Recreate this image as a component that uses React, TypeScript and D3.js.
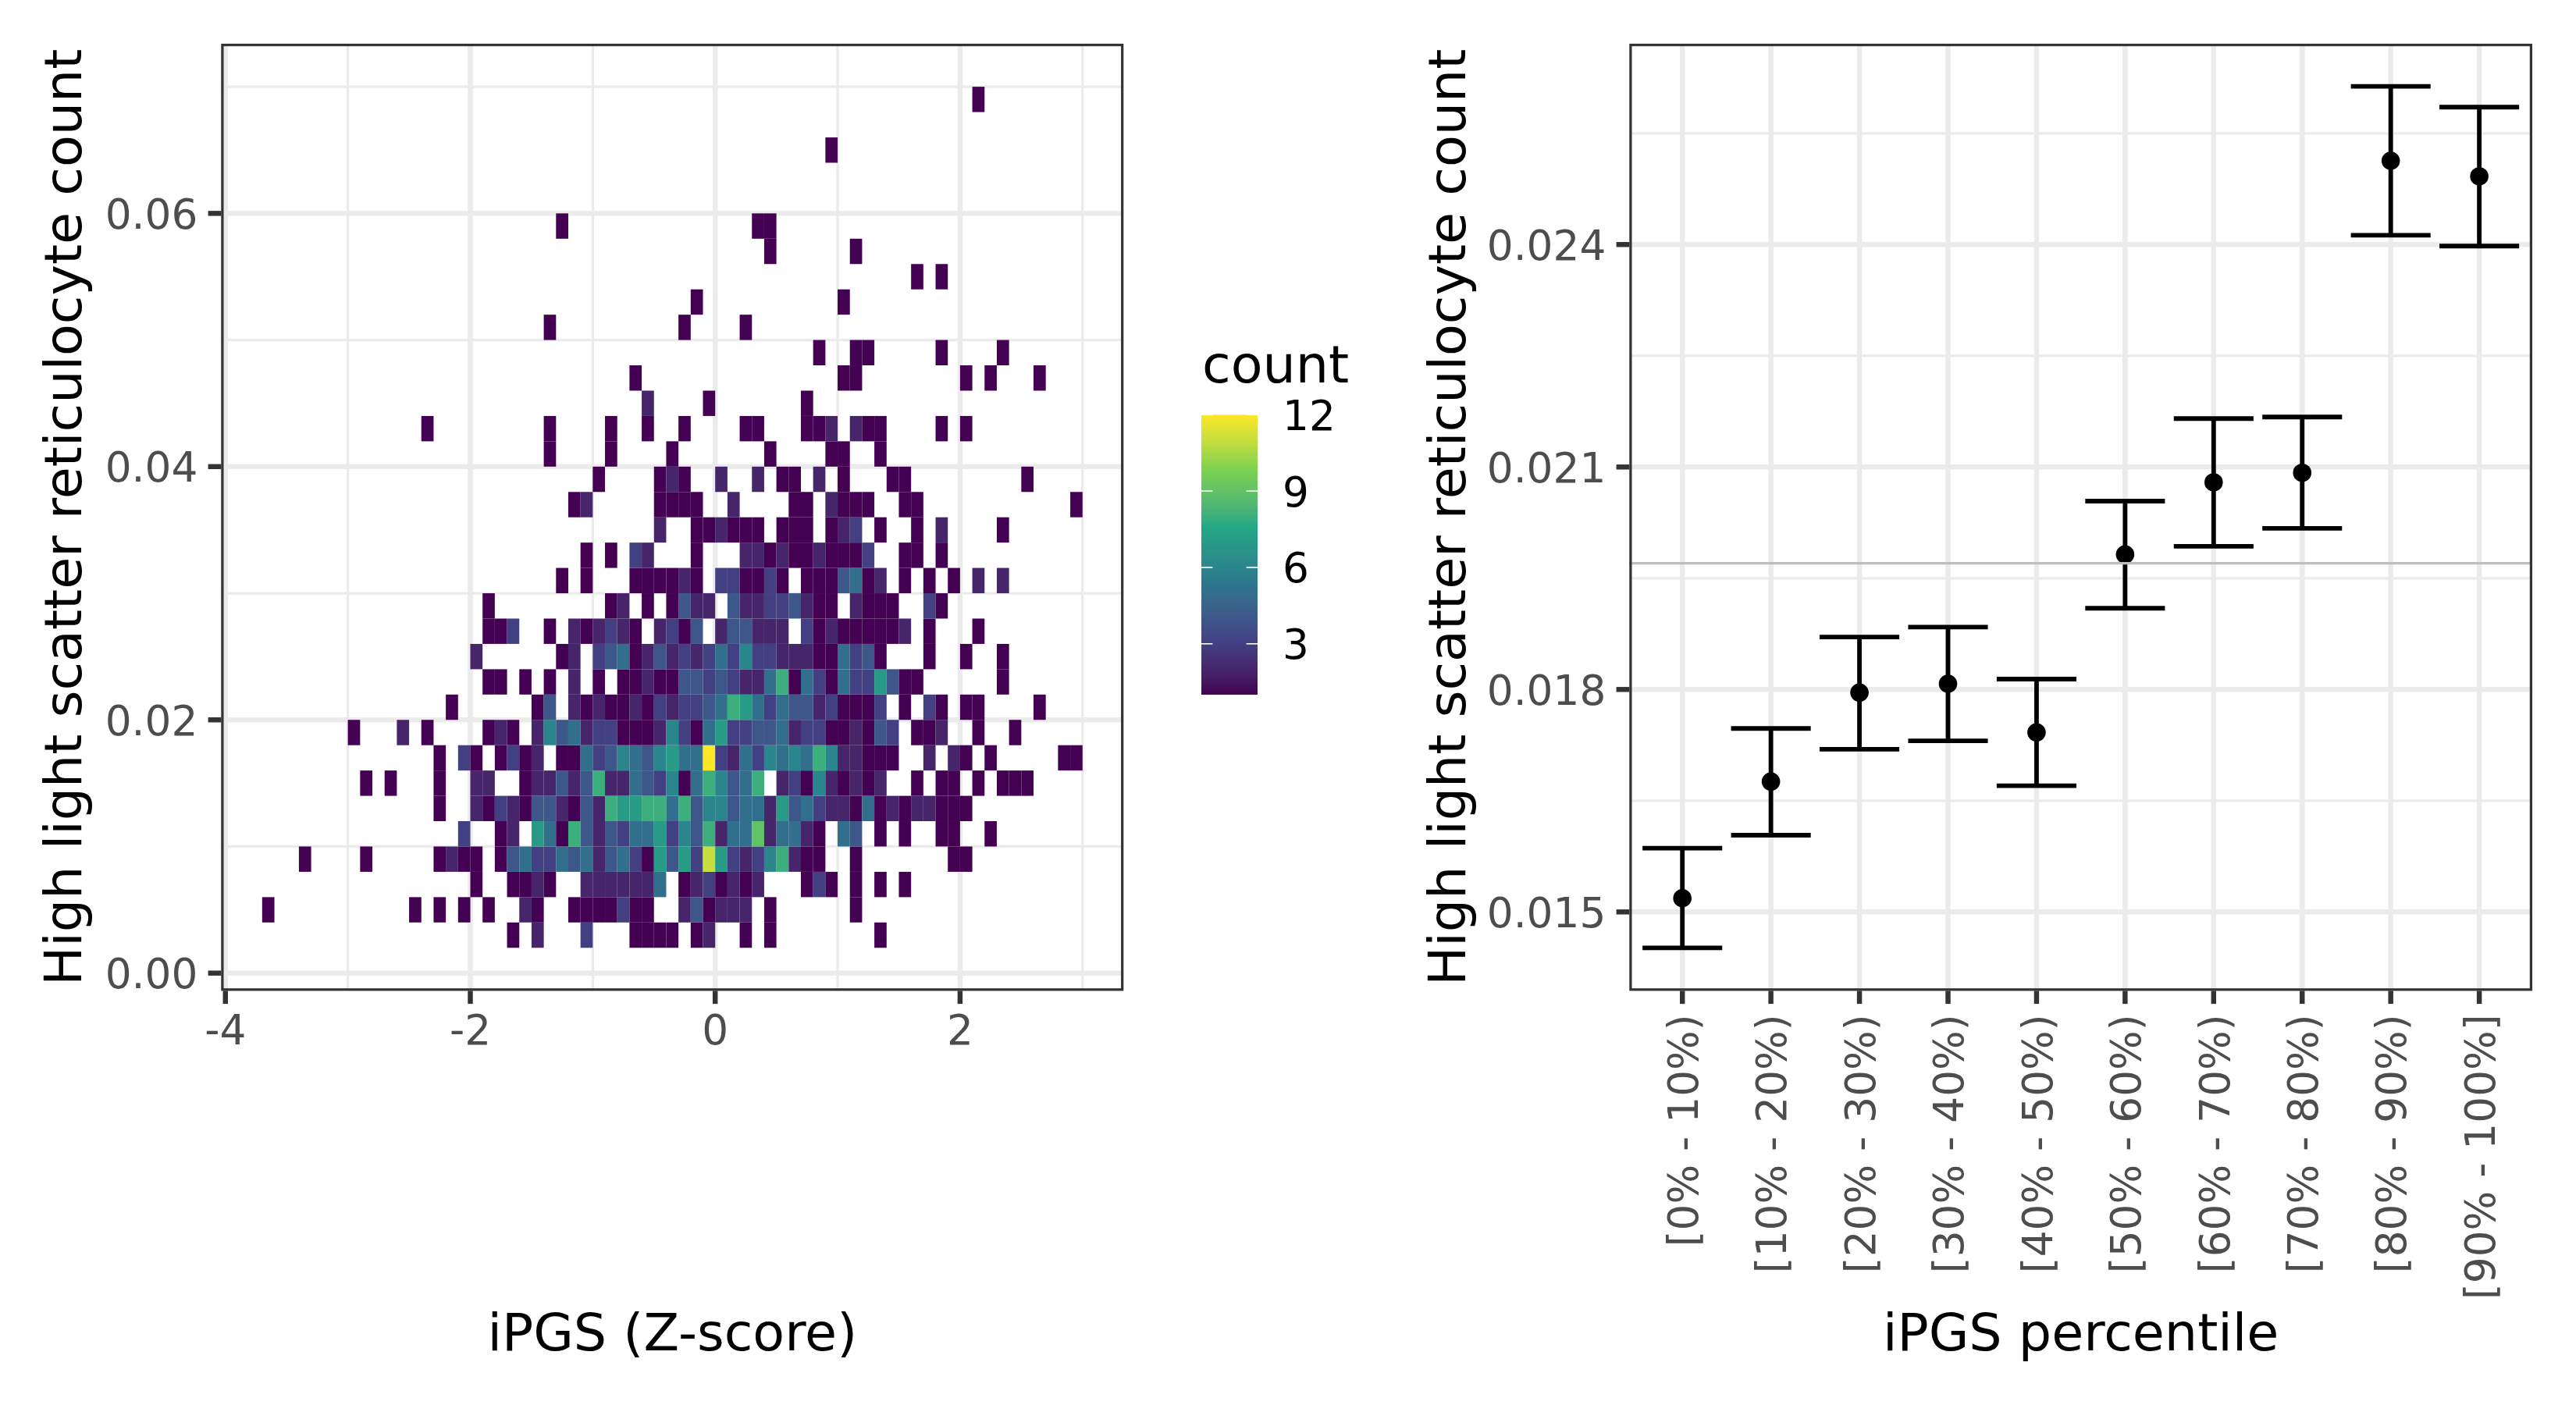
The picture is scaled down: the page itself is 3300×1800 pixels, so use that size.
import React from "react";
import * as d3 from "d3";

// ---- Left panel: 2D histogram. Bin size is 0.1 on x and 0.002 on y.
// Each row is [binIndexX, count]; bin x = index * 0.1, bin y = rowIndex * 0.002.
const row01 = [[-17,1],[-15,2],[-11,3],[-7,1],[-6,1],[-5,1],[-4,1],[-2,1],[-1,2],[2,1],[4,1],[13,1]];
const row02 = [[-37,1],[-25,1],[-23,1],[-21,1],[-19,1],[-16,2],[-15,1],[-12,1],[-11,1],[-10,1],[-9,1],[-8,3],[-7,1],[-6,1],[-3,2],[-2,4],[-1,1],[0,2],[1,2],[2,2],[4,1],[11,1]];
const row03 = [[-20,1],[-17,1],[-16,1],[-15,2],[-14,1],[-11,2],[-10,2],[-9,2],[-8,2],[-7,2],[-6,2],[-5,5],[-3,1],[-2,2],[-1,3],[0,1],[1,2],[2,1],[3,2],[7,1],[8,3],[9,1],[11,1],[13,1],[15,1]];
const row04 = [[-34,1],[-29,1],[-23,1],[-22,2],[-21,1],[-20,1],[-18,1],[-17,4],[-16,5],[-15,3],[-14,3],[-13,5],[-12,4],[-11,5],[-10,2],[-9,4],[-8,5],[-7,3],[-6,1],[-5,7],[-4,4],[-3,7],[-2,3],[-1,11],[0,7],[1,3],[2,2],[3,3],[4,6],[5,8],[6,2],[7,1],[8,1],[11,1],[19,1],[20,1]];
const row05 = [[-21,3],[-18,1],[-17,2],[-15,7],[-14,5],[-13,1],[-12,8],[-11,4],[-10,2],[-9,4],[-8,3],[-7,5],[-6,5],[-5,7],[-4,3],[-3,6],[-2,4],[-1,8],[0,2],[1,5],[2,5],[3,9],[4,2],[5,5],[6,5],[7,2],[8,1],[10,5],[11,4],[13,1],[15,1],[18,1],[19,1],[22,1]];
const row06 = [[-23,1],[-20,2],[-19,1],[-18,3],[-17,2],[-16,1],[-15,4],[-14,4],[-13,2],[-12,1],[-11,4],[-10,2],[-9,8],[-8,7],[-7,7],[-6,8],[-5,8],[-4,5],[-3,8],[-2,4],[-1,6],[0,6],[1,4],[2,5],[3,5],[4,2],[5,7],[6,4],[7,5],[8,3],[9,2],[10,2],[11,1],[12,5],[13,1],[14,2],[15,1],[16,2],[17,2],[18,1],[19,1],[20,1]];
const row07 = [[-29,1],[-27,1],[-23,1],[-20,2],[-19,2],[-16,1],[-15,2],[-14,2],[-13,4],[-12,2],[-11,4],[-10,8],[-9,2],[-8,2],[-7,5],[-6,4],[-5,3],[-4,6],[-3,1],[-2,5],[-1,8],[0,6],[1,4],[2,5],[3,8],[5,2],[6,3],[7,1],[8,6],[9,2],[10,1],[11,2],[12,1],[13,2],[16,1],[18,1],[19,1],[21,1],[23,1],[24,1],[25,1]];
const row08 = [[-23,1],[-21,3],[-20,1],[-18,1],[-17,3],[-16,1],[-15,2],[-13,1],[-12,1],[-11,5],[-10,3],[-9,4],[-8,6],[-7,5],[-6,4],[-5,6],[-4,7],[-3,5],[-2,5],[-1,12],[0,3],[1,2],[2,5],[3,3],[4,6],[5,5],[6,6],[7,5],[8,8],[9,6],[10,2],[11,2],[12,1],[13,1],[14,1],[17,2],[19,2],[20,1],[22,1],[28,1],[29,1]];
const row09 = [[-30,1],[-26,2],[-24,1],[-19,1],[-18,2],[-17,1],[-15,2],[-14,6],[-13,4],[-12,5],[-11,2],[-10,3],[-9,3],[-8,1],[-7,1],[-6,1],[-5,2],[-4,6],[-3,3],[-2,1],[-1,5],[0,7],[1,3],[2,3],[3,4],[4,4],[5,5],[6,2],[7,3],[8,3],[9,1],[10,1],[11,2],[12,1],[13,4],[14,3],[16,1],[17,1],[18,2],[21,1],[24,1]];
const row10 = [[-22,1],[-15,1],[-14,4],[-12,2],[-11,1],[-10,2],[-9,1],[-8,1],[-7,2],[-6,1],[-5,3],[-4,2],[-3,3],[-2,3],[-1,4],[0,5],[1,8],[2,7],[3,5],[4,3],[5,5],[6,4],[7,4],[8,2],[9,3],[10,1],[11,1],[12,1],[13,3],[15,1],[17,3],[18,1],[20,1],[21,1],[26,1]];
const row11 = [[-19,1],[-18,1],[-16,1],[-14,1],[-12,2],[-10,1],[-8,1],[-7,1],[-6,2],[-5,1],[-4,1],[-3,4],[-2,4],[-1,3],[0,4],[1,3],[2,2],[3,2],[4,5],[5,8],[6,1],[7,5],[8,3],[9,1],[10,5],[11,3],[12,3],[13,7],[14,4],[15,1],[16,1],[23,1]];
const row12 = [[-20,2],[-13,1],[-12,2],[-10,3],[-9,4],[-8,5],[-7,1],[-6,2],[-5,4],[-4,2],[-3,3],[-2,2],[-1,3],[0,5],[1,3],[2,6],[3,3],[4,3],[5,2],[6,2],[7,2],[8,1],[9,1],[10,5],[11,3],[12,4],[13,1],[17,1],[20,1],[23,1]];
const row13 = [[-19,1],[-18,1],[-17,3],[-14,1],[-12,2],[-11,1],[-10,2],[-9,3],[-8,2],[-7,1],[-5,2],[-4,3],[-3,1],[-2,4],[0,2],[1,4],[2,4],[3,2],[4,2],[5,2],[7,3],[8,1],[9,2],[10,1],[11,1],[12,1],[13,1],[14,1],[15,2],[17,1],[21,1]];
const row14 = [[-19,1],[-9,1],[-8,2],[-6,1],[-4,1],[-3,4],[-2,2],[-1,2],[1,4],[2,2],[3,2],[4,3],[5,3],[6,4],[7,2],[8,1],[9,1],[11,2],[12,1],[13,1],[14,1],[17,3],[18,1]];
const row15 = [[-13,1],[-11,1],[-7,1],[-6,1],[-5,1],[-4,1],[-3,2],[-2,1],[0,3],[1,3],[2,1],[3,1],[4,3],[5,1],[7,1],[8,1],[9,1],[10,4],[11,5],[12,1],[13,2],[15,1],[17,1],[19,1],[21,2],[23,2]];
const row16 = [[-11,1],[-9,1],[-7,3],[-6,2],[-2,1],[2,2],[3,2],[4,1],[5,2],[6,1],[7,1],[8,2],[9,1],[10,1],[11,1],[12,3],[15,1],[16,1],[18,1]];
const row17 = [[-5,2],[-2,1],[-1,1],[0,2],[1,1],[2,1],[3,1],[5,1],[6,1],[7,1],[9,1],[10,2],[11,3],[13,1],[16,1],[18,2],[23,1]];
const row18 = [[-12,1],[-11,2],[-5,1],[-4,1],[-3,1],[-2,1],[1,2],[6,1],[7,1],[9,2],[10,1],[11,1],[12,1],[15,1],[16,1],[29,1]];
const row19 = [[-10,1],[-5,1],[-4,2],[-3,1],[0,2],[3,2],[5,1],[6,1],[8,2],[10,1],[14,1],[15,1],[25,1]];
const row20 = [[-14,1],[-9,1],[-4,1],[4,1],[9,1],[10,1],[13,1]];
const row21 = [[-24,1],[-14,1],[-9,1],[-6,1],[-3,1],[2,1],[3,1],[7,1],[8,1],[9,2],[11,2],[12,1],[13,1],[18,1],[20,1]];
const row22 = [[-6,2],[-1,1],[7,1]];
const row23 = [[-7,1],[10,1],[11,1],[20,1],[22,1],[26,1]];
const row24 = [[8,1],[11,1],[12,1],[18,1],[23,1]];
const row25 = [[-14,1],[-3,1],[2,1]];
const row26 = [[-2,1],[10,1]];
const row27 = [[16,1],[18,1]];
const row28 = [[4,1],[11,1]];
const row29 = [[-13,1],[3,1],[4,1]];
const row32 = [[9,1]];
const row34 = [[21,1]];
const heatRows: [number, number[][]][] = [
  [1, row01],[2, row02],[3, row03],[4, row04],[5, row05],[6, row06],[7, row07],[8, row08],[9, row09],
  [10, row10],[11, row11],[12, row12],[13, row13],[14, row14],[15, row15],[16, row16],[17, row17],
  [18, row18],[19, row19],[20, row20],[21, row21],[22, row22],[23, row23],[24, row24],[25, row25],
  [26, row26],[27, row27],[28, row28],[29, row29],[32, row32],[34, row34],
];
const binW = 0.1;
const binH = 0.002;

const viridisStops = ["#440154", "#414487", "#2A788E", "#22A884", "#7AD151", "#FDE725"];
const countStops = [1, 3.2, 5.4, 7.6, 9.8, 12];
const legendTicks = [3, 6, 9, 12];

const leftXMajor = [-4, -2, 0, 2];
const leftXMinor = [-3, -1, 1, 3];
const leftYMajor = [0, 0.02, 0.04, 0.06];
const leftYMinor = [0.01, 0.03, 0.05, 0.07];

// ---- Right panel: point ranges per percentile bin
const percentiles = ["[0% - 10%)", "[10% - 20%)", "[20% - 30%)", "[30% - 40%)", "[40% - 50%)", "[50% - 60%)", "[60% - 70%)", "[70% - 80%)", "[80% - 90%)", "[90% - 100%]"];
const means = [0.015185, 0.016758, 0.017958, 0.018077, 0.017421, 0.019821, 0.020793, 0.020922, 0.025129, 0.024919];
const uppers = [0.015859, 0.017474, 0.018708, 0.018842, 0.01814, 0.02054, 0.021653, 0.021674, 0.026133, 0.025853];
const lowers = [0.014516, 0.016035, 0.017193, 0.017308, 0.016701, 0.019095, 0.01993, 0.020172, 0.024126, 0.023979];
const overallMean = 0.019701;
const rightYMajor = [0.015, 0.018, 0.021, 0.024];
const rightYMinor = [0.0165, 0.0195, 0.0225, 0.0255];

const yTitle = "High light scatter reticulocyte count";
const FONT = "'DejaVu Sans'";
const GRID = "#ebebeb";
const DARK = "#333333";
const TICKTXT = "#4d4d4d";
const MAJ = 6.46;
const MIN = 3.23;
const TITLE = 66.7;
const TICK = 53.3;

const P = { t: 56, b: 1269.4 };
const L = { l: 283.3, r: 1439.3 };
const R = { l: 2087.3, r: 3244 };
const TL = 16.7;

const xL = d3.scaleLinear().domain([-4.035, 3.335]).range([L.l, L.r]);
const yL = d3.scaleLinear().domain([-0.0014, 0.0734]).range([P.b, P.t]);
const xR = d3.scalePoint<string>().domain(percentiles).range([R.l + 67.9, R.r - 67.9]);
const yR = d3.scaleLinear().domain([0.013936, 0.026708]).range([P.b, P.t]);
const color = d3.scaleLinear<string>().domain(countStops).range(viridisStops).interpolate(d3.interpolateLab);
const legendY = d3.scaleLinear().domain([1, 12]).range([890, 531.3]);
const step = xR.step();

const tiles = heatRows.flatMap(([r, cells]) => cells.map(([c, n]) => ({ r, c, n })));
const gradientStops = d3.range(1, 12.01, 0.2);

function Frame({ l, r }: { l: number; r: number }) {
  return <rect x={l + 1.6} y={P.t + 1.6} width={r - l - 3.2} height={P.b - P.t - 3.2} fill="none" stroke={DARK} strokeWidth={3.23} />;
}

export default function App() {
  return (
    <svg width={3300} height={1800} viewBox="0 0 3300 1800" style={{ position: "absolute", left: 0, top: 0, display: "block", background: "#fff" }} fontFamily={FONT}>
      <rect x={0} y={0} width={3300} height={1800} fill="#fff" />

      {/* left grid */}
      {leftYMinor.map((v) => <line key={"lym" + v} x1={L.l} x2={L.r} y1={yL(v)} y2={yL(v)} stroke={GRID} strokeWidth={MIN} />)}
      {leftXMinor.map((v) => <line key={"lxm" + v} x1={xL(v)} x2={xL(v)} y1={P.t} y2={P.b} stroke={GRID} strokeWidth={MIN} />)}
      {leftYMajor.map((v) => <line key={"lyM" + v} x1={L.l} x2={L.r} y1={yL(v)} y2={yL(v)} stroke={GRID} strokeWidth={MAJ} />)}
      {leftXMajor.map((v) => <line key={"lxM" + v} x1={xL(v)} x2={xL(v)} y1={P.t} y2={P.b} stroke={GRID} strokeWidth={MAJ} />)}

      {/* heat tiles */}
      {tiles.map((d) => (
        <rect
          key={d.r + "_" + d.c}
          x={xL(d.c * binW)}
          y={yL((d.r + 1) * binH)}
          width={xL((d.c + 1) * binW) - xL(d.c * binW)}
          height={yL(d.r * binH) - yL((d.r + 1) * binH)}
          fill={color(d.n)}
        />
      ))}
      <Frame l={L.l} r={L.r} />

      {/* left ticks */}
      {leftXMajor.map((v) => (
        <g key={"ltx" + v}>
          <line x1={xL(v)} x2={xL(v)} y1={P.b} y2={P.b + TL} stroke={DARK} strokeWidth={MAJ} />
          <text x={xL(v)} y={1338} fontSize={TICK} fill={TICKTXT} textAnchor="middle">{v}</text>
        </g>
      ))}
      {leftYMajor.map((v) => (
        <g key={"lty" + v}>
          <line x1={L.l - TL} x2={L.l} y1={yL(v)} y2={yL(v)} stroke={DARK} strokeWidth={MAJ} />
          <text x={253.3} y={yL(v) + 19.5} fontSize={TICK} fill={TICKTXT} textAnchor="end">{d3.format(".2f")(v)}</text>
        </g>
      ))}
      <text x={(L.l + L.r) / 2} y={1730} fontSize={TITLE} textAnchor="middle" fill="#000">iPGS (Z-score)</text>
      <text transform={`translate(104,${(P.t + P.b) / 2}) rotate(-90)`} fontSize={TITLE} textAnchor="middle" fill="#000">{yTitle}</text>

      {/* legend */}
      <defs>
        <linearGradient id="countBar" x1="0" x2="0" y1="1" y2="0">
          {gradientStops.map((v) => <stop key={v} offset={(v - 1) / 11} stopColor={color(v)} />)}
        </linearGradient>
      </defs>
      <text x={1540} y={490} fontSize={TITLE} fill="#000">count</text>
      <rect x={1539} y={legendY(12)} width={72} height={legendY(1) - legendY(12)} fill="url(#countBar)" />
      {legendTicks.map((v) => (
        <g key={"lg" + v}>
          <line x1={1539} x2={1553.4} y1={legendY(v)} y2={legendY(v)} stroke="#fff" strokeWidth={1.6} />
          <line x1={1596.6} x2={1611} y1={legendY(v)} y2={legendY(v)} stroke="#fff" strokeWidth={1.6} />
          <text x={1643} y={legendY(v) + 19.5} fontSize={TICK} fill="#000">{v}</text>
        </g>
      ))}

      {/* right grid */}
      {rightYMinor.map((v) => <line key={"rym" + v} x1={R.l} x2={R.r} y1={yR(v)} y2={yR(v)} stroke={GRID} strokeWidth={MIN} />)}
      {rightYMajor.map((v) => <line key={"ryM" + v} x1={R.l} x2={R.r} y1={yR(v)} y2={yR(v)} stroke={GRID} strokeWidth={MAJ} />)}
      {percentiles.map((p) => <line key={"rxM" + p} x1={xR(p)} x2={xR(p)} y1={P.t} y2={P.b} stroke={GRID} strokeWidth={MAJ} />)}

      {/* error bars and means */}
      {percentiles.map((p, i) => {
        const x = xR(p) as number;
        const hw = step * 0.45;
        return (
          <g key={"eb" + p} stroke="#000" strokeWidth={5.8}>
            <line x1={x} x2={x} y1={yR(uppers[i])} y2={yR(lowers[i])} />
            <line x1={x - hw} x2={x + hw} y1={yR(uppers[i])} y2={yR(uppers[i])} />
            <line x1={x - hw} x2={x + hw} y1={yR(lowers[i])} y2={yR(lowers[i])} />
            <circle cx={x} cy={yR(means[i])} r={11.8} fill="#000" stroke="none" />
          </g>
        );
      })}
      <line x1={R.l} x2={R.r} y1={yR(overallMean)} y2={yR(overallMean)} stroke="#bebebe" strokeWidth={3.2} />
      <Frame l={R.l} r={R.r} />

      {/* right ticks */}
      {percentiles.map((p) => (
        <g key={"rtx" + p}>
          <line x1={xR(p)} x2={xR(p)} y1={P.b} y2={P.b + TL} stroke={DARK} strokeWidth={MAJ} />
          <text transform={`translate(${(xR(p) as number) + 19.8},1299.5) rotate(-90)`} fontSize={TICK} fill={TICKTXT} textAnchor="end">{p}</text>
        </g>
      ))}
      {rightYMajor.map((v) => (
        <g key={"rty" + v}>
          <line x1={R.l - TL} x2={R.l} y1={yR(v)} y2={yR(v)} stroke={DARK} strokeWidth={MAJ} />
          <text x={R.l - 30} y={yR(v) + 19.5} fontSize={TICK} fill={TICKTXT} textAnchor="end">{d3.format(".3f")(v)}</text>
        </g>
      ))}
      <text x={(R.l + R.r) / 2} y={1730} fontSize={TITLE} textAnchor="middle" fill="#000">iPGS percentile</text>
      <text transform={`translate(1877,${(P.t + P.b) / 2}) rotate(-90)`} fontSize={TITLE} textAnchor="middle" fill="#000">{yTitle}</text>
    </svg>
  );
}
